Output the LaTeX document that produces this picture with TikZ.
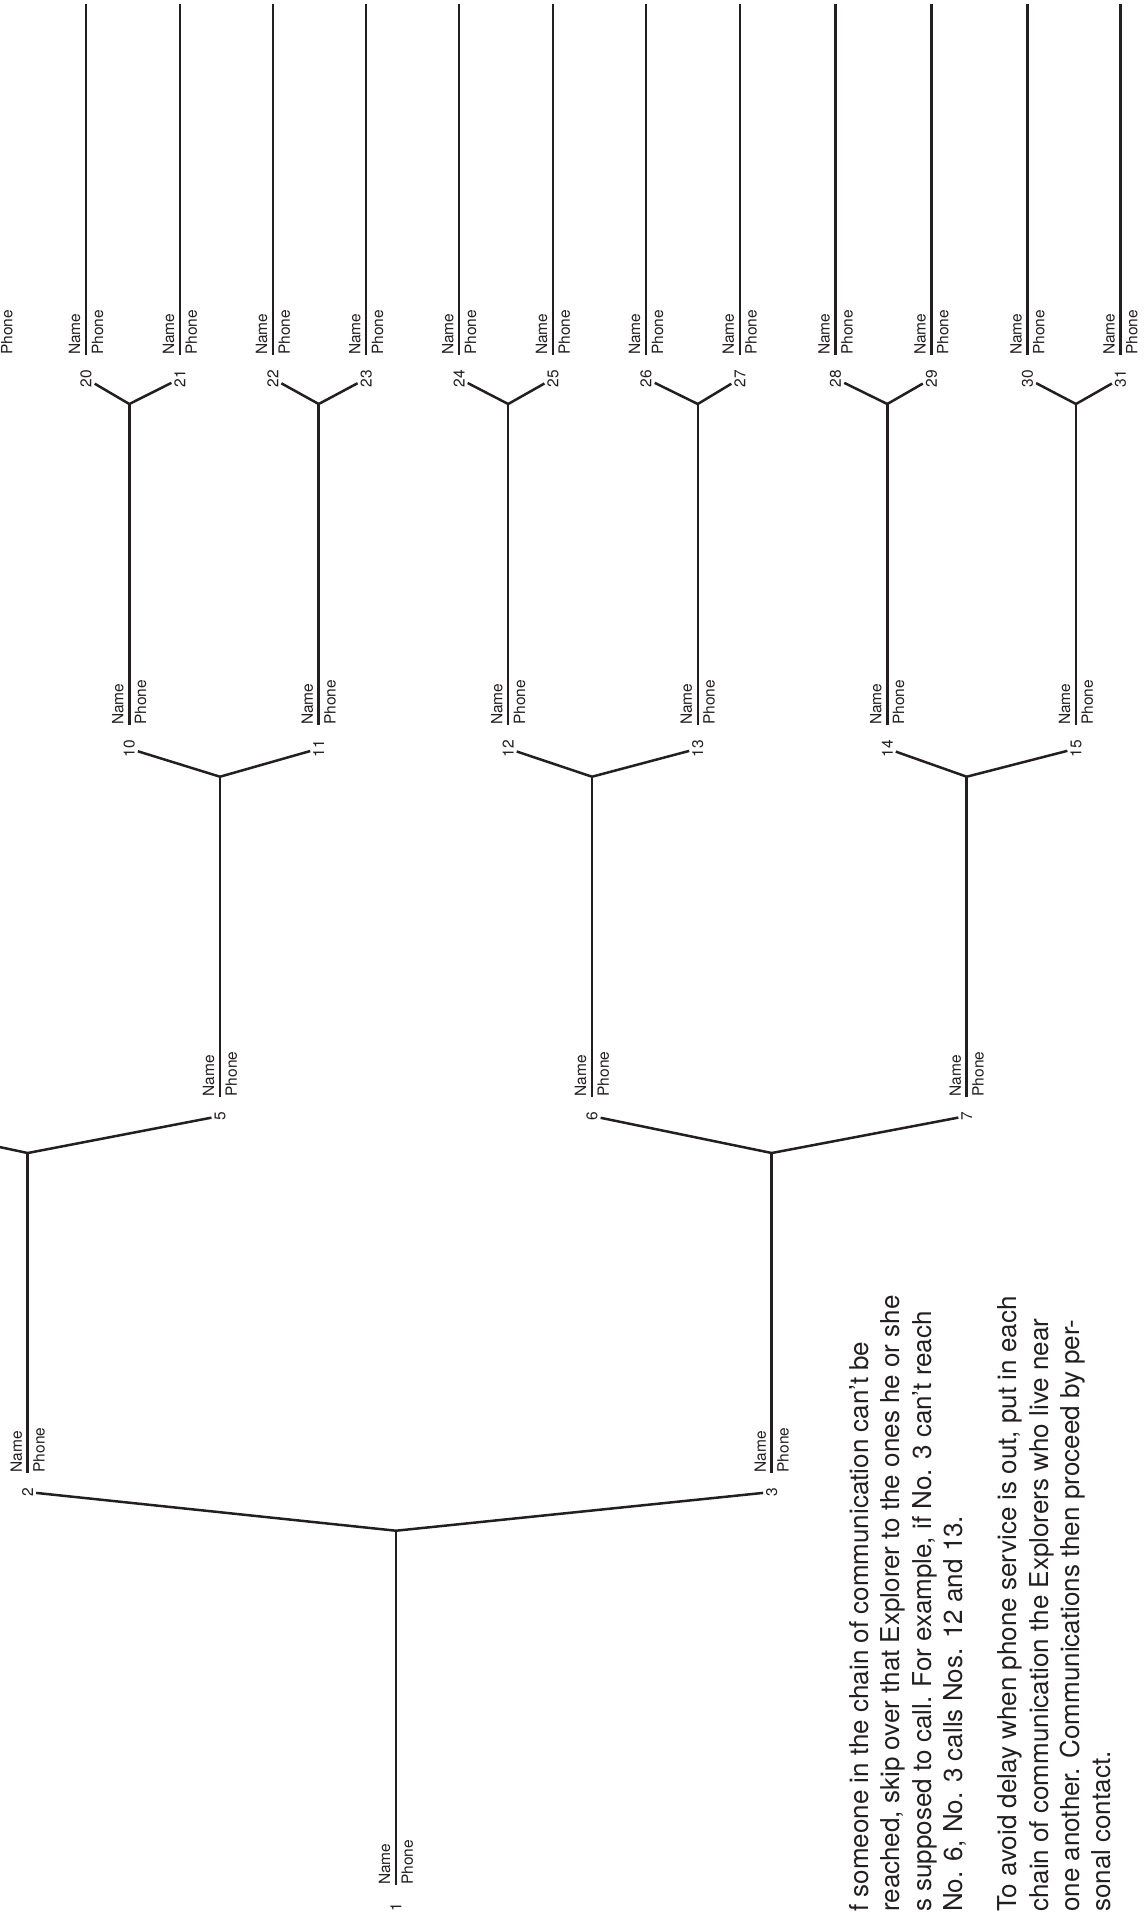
\documentclass[tikz,border=0pt]{standalone}
\usepackage{fontspec}
\setmainfont{TeX Gyre Heros}
\definecolor{inkblack}{HTML}{231F20}
\tikzstyle{wire} = [line width=2.5pt, draw=inkblack]
\tikzstyle{note} = [rotate=90, anchor=north west, align=left, inner sep=0pt, text=inkblack, font=\fontsize{26}{31.4}\selectfont]

\begin{document}
\begin{tikzpicture}[
    x=1pt, y=-1pt,
    person/.style={rotate=90, anchor=west, align=left, inner sep=0pt, text=inkblack,
      font=\fontsize{15.5}{22.8}\selectfont},
    num/.style={rotate=90, anchor=east, inner sep=0pt, outer sep=3pt, text=inkblack,
      font=\fontsize{15.5}{18}\selectfont}
  ]
    \useasboundingbox (0,0) rectangle (1144,1912);
    \clip (0,0) rectangle (1144,1912);
    \coordinate (top) at (0,4);

    % Caller 1 (start of the chain)
    \node[person] (p1) at (396,1885) {Name\\Phone};
    \node[num] (n1) at (396,1900) {1};
    \coordinate (j1) at (396,1530.7);
    \draw[wire] (p1.west) -- (j1);

    % Second row: 2, 3 (4 lies off the sheet)
    \node[person] (p2) at (27.7,1472.7) {Name\\Phone};
    \node[num] (n2) at (27.7,1484.7) {2};
    \node[person] (p3) at (771.7,1472.7) {Name\\Phone};
    \node[num] (n3) at (771.7,1484.7) {3};
    \coordinate (n4) at (-143,1116.7);
    \coordinate (j2) at (27.7,1153);
    \coordinate (j3) at (771.7,1153);

    \draw[wire] (n2) -- (j1) -- (n3);
    \draw[wire] (p2.west) -- (j2);
    \draw[wire] (p3.west) -- (j3);

    % Third row: 5, 6, 7
    \node[person] (p5) at (220,1096.7) {Name\\Phone};
    \node[num] (n5) at (220,1108.7) {5};
    \node[person] (p6) at (592,1096.7) {Name\\Phone};
    \node[num] (n6) at (592,1108.7) {6};
    \node[person] (p7) at (966.7,1096.7) {Name\\Phone};
    \node[num] (n7) at (966.7,1108.7) {7};
    \coordinate (j5) at (220,776.7);
    \coordinate (j6) at (592,776.7);
    \coordinate (j7) at (966.7,776.7);

    \draw[wire] (n4) -- (j2) -- (n5);
    \draw[wire] (n6) -- (j3) -- (n7);
    \draw[wire] (p5.west) -- (j5);
    \draw[wire] (p6.west) -- (j6);
    \draw[wire] (p7.west) -- (j7);

    % Fourth row: 10 to 15
    \node[person] (p10) at (129.3,725) {Name\\Phone};
    \node[num] (n10) at (129.3,737) {10};
    \node[person] (p11) at (318.7,725) {Name\\Phone};
    \node[num] (n11) at (318.7,737) {11};
    \node[person] (p12) at (508.2,725) {Name\\Phone};
    \node[num] (n12) at (508.2,737) {12};
    \node[person] (p13) at (697.8,725) {Name\\Phone};
    \node[num] (n13) at (697.8,737) {13};
    \node[person] (p14) at (887.3,725) {Name\\Phone};
    \node[num] (n14) at (887.3,737) {14};
    \node[person] (p15) at (1076,725) {Name\\Phone};
    \node[num] (n15) at (1076,737) {15};
    \coordinate (j10) at (129.3,404);
    \coordinate (j11) at (318.7,404);
    \coordinate (j12) at (508.2,404);
    \coordinate (j13) at (697.8,404);
    \coordinate (j14) at (887.3,404);
    \coordinate (j15) at (1076,404);

    \draw[wire] (n10) -- (j5) -- (n11);
    \draw[wire] (n12) -- (j6) -- (n13);
    \draw[wire] (n14) -- (j7) -- (n15);
    \draw[wire] (p10.west) -- (j10);
    \draw[wire] (p11.west) -- (j11);
    \draw[wire] (p12.west) -- (j12);
    \draw[wire] (p13.west) -- (j13);
    \draw[wire] (p14.west) -- (j14);
    \draw[wire] (p15.west) -- (j15);

    % Last row: 19 (cut at the edge) and 20 to 31
    \node[person, anchor=north west] (p19) at (1,355) {Phone};
    \node[person] (p20) at (86.1,355) {Name\\Phone};
    \node[num] (n20) at (86.1,367) {20};
    \node[person] (p21) at (179.9,355) {Name\\Phone};
    \node[num] (n21) at (179.9,367) {21};
    \node[person] (p22) at (272.9,355) {Name\\Phone};
    \node[num] (n22) at (272.9,367) {22};
    \node[person] (p23) at (366.2,355) {Name\\Phone};
    \node[num] (n23) at (366.2,367) {23};
    \node[person] (p24) at (459.2,355) {Name\\Phone};
    \node[num] (n24) at (459.2,367) {24};
    \node[person] (p25) at (553,355) {Name\\Phone};
    \node[num] (n25) at (553,367) {25};
    \node[person] (p26) at (646.1,355) {Name\\Phone};
    \node[num] (n26) at (646.1,367) {26};
    \node[person] (p27) at (739.8,355) {Name\\Phone};
    \node[num] (n27) at (739.8,367) {27};
    \node[person] (p28) at (835.6,355) {Name\\Phone};
    \node[num] (n28) at (835.6,367) {28};
    \node[person] (p29) at (931.4,355) {Name\\Phone};
    \node[num] (n29) at (931.4,367) {29};
    \node[person] (p30) at (1027.5,355) {Name\\Phone};
    \node[num] (n30) at (1027.5,367) {30};
    \node[person] (p31) at (1120.5,355) {Name\\Phone};
    \node[num] (n31) at (1120.5,367) {31};

    \draw[wire] (n20) -- (j10) -- (n21);
    \draw[wire] (n22) -- (j11) -- (n23);
    \draw[wire] (n24) -- (j12) -- (n25);
    \draw[wire] (n26) -- (j13) -- (n27);
    \draw[wire] (n28) -- (j14) -- (n29);
    \draw[wire] (n30) -- (j15) -- (n31);
    \draw[wire] (p20.west) -- (p20.west |- top);
    \draw[wire] (p21.west) -- (p21.west |- top);
    \draw[wire] (p22.west) -- (p22.west |- top);
    \draw[wire] (p23.west) -- (p23.west |- top);
    \draw[wire] (p24.west) -- (p24.west |- top);
    \draw[wire] (p25.west) -- (p25.west |- top);
    \draw[wire] (p26.west) -- (p26.west |- top);
    \draw[wire] (p27.west) -- (p27.west |- top);
    \draw[wire] (p28.west) -- (p28.west |- top);
    \draw[wire] (p29.west) -- (p29.west |- top);
    \draw[wire] (p30.west) -- (p30.west |- top);
    \draw[wire] (p31.west) -- (p31.west |- top);

    % Instructions
    \node[note] (rule1) at (849,1912) {f someone in the chain of communication can't be\\
      reached, skip over that Explorer to the ones he or she\\
      s supposed to call. For example, if No. 3 can't reach\\
      No. 6, No. 3 calls Nos. 12 and 13.};
    \node[note] (rule2) at (997.6,1912) {To avoid delay when phone service is out, put in each\\
      chain of communication the Explorers who live near\\
      one another. Communications then proceed by per-\\
      sonal contact.};
  \end{tikzpicture}
\end{document}
